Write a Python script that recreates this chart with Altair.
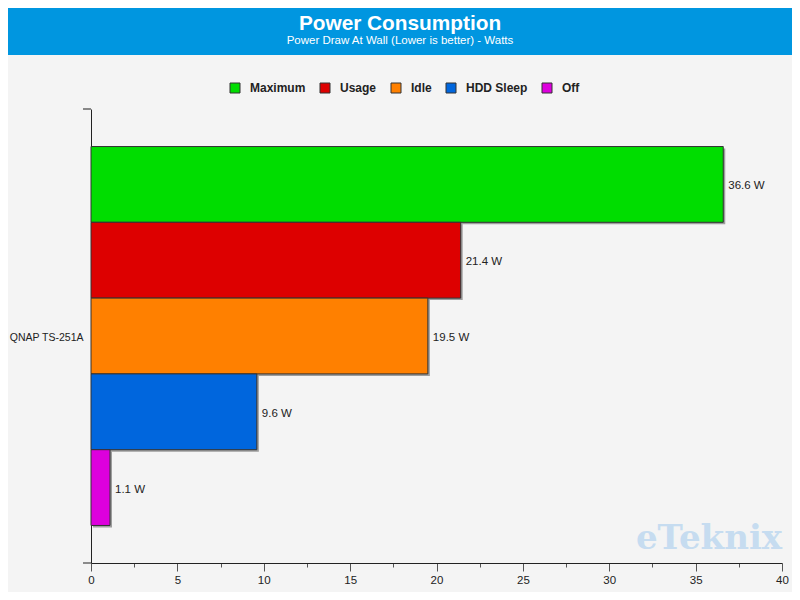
import altair as alt
import pandas as pd

device = "QNAP TS-251A"
series = ["Maximum", "Usage", "Idle", "HDD Sleep", "Off"]
values = [36.6, 21.4, 19.5, 9.6, 1.1]
colors = ["#00dd00", "#dd0000", "#ff8000", "#0066dd", "#dd00dd"]
x_ticks = [0, 2.5, 5, 7.5, 10, 12.5, 15, 17.5, 20, 22.5, 25, 27.5, 30, 32.5, 35, 37.5, 40]

title = "Power Consumption"
subtitle = "Power Draw At Wall (Lower is better) - Watts"
watermark = "eTeknix"

df = pd.DataFrame({"device": device, "series": series, "value": values})
one = pd.DataFrame({"a": [0]})

W, H = 691, 454
FONT = "Liberation Sans"

yscale = alt.Scale(domain=series, paddingInner=0, paddingOuter=0.495)
xscale = alt.Scale(domain=[0, 40], nice=False)

base = alt.Chart(df)

shadow = base.mark_bar(
    color="#555555", opacity=0.55, xOffset=2, x2Offset=2, yOffset=2, y2Offset=2
).encode(
    x=alt.X("value:Q", scale=xscale),
    y=alt.Y("series:N", scale=yscale),
)

bars = base.mark_bar(stroke="#333333", strokeWidth=1).encode(
    x=alt.X(
        "value:Q",
        scale=xscale,
        title=None,
        axis=alt.Axis(
            values=x_ticks,
            labelExpr="datum.value % 5 === 0 ? datum.label : ''",
            grid=False,
            domainColor="#222222",
            tickColor="#555555",
            tickSize={"condition": {"test": "datum.value % 5 === 0", "value": 8}, "value": 4},
            labelFont=FONT,
            labelFontSize=11.5,
            labelColor="#222222",
            labelPadding=3,
            labelFlush=False,
        ),
    ),
    y=alt.Y(
        "series:N",
        scale=yscale,
        sort=series,
        title=None,
        axis=alt.Axis(
            labelExpr=f"datum.value === 'Idle' ? '{device}' : ''",
            ticks=False,
            domainColor="#222222",
            labelFont=FONT,
            labelFontSize=10.5,
            labelColor="#222222",
            labelPadding=8,
            labelOffset=2,
        ),
    ),
    color=alt.Color(
        "series:N",
        scale=alt.Scale(domain=series, range=colors),
        legend=alt.Legend(
            title=None,
            orient="none",
            direction="horizontal",
            legendX=138,
            legendY=-27,
            symbolType="square",
            symbolSize=100,
            symbolStrokeColor="#333333",
            symbolStrokeWidth=1,
            symbolOpacity=1,
            labelFont=FONT,
            labelFontWeight="bold",
            labelFontSize=12,
            labelColor="#222222",
            labelOffset=9,
            columnPadding=12,
        ),
    ),
)

labels = base.transform_calculate(
    lab="format(datum.value, '.1f') + ' W'"
).mark_text(align="left", baseline="middle", dx=5, dy=2, font=FONT, fontSize=11.5, color="#222222").encode(
    x=alt.X("value:Q", scale=xscale),
    y=alt.Y("series:N", scale=yscale),
    text="lab:N",
)

header = alt.Chart(one).mark_rect(color="#0096e0").encode(
    x=alt.value(-91), x2=alt.value(709), y=alt.value(-115), y2=alt.value(-54)
)
t1 = alt.Chart(one).mark_text(
    text=title, font=FONT, fontSize=20.8, fontWeight="bold", color="white", align="center", baseline="middle"
).encode(x=alt.value(309), y=alt.value(-85))
t2 = alt.Chart(one).mark_text(
    text=subtitle, font=FONT, fontSize=11.5, color="white", align="center", baseline="middle"
).encode(x=alt.value(309), y=alt.value(-68))

wm = alt.Chart(one).mark_text(
    text=watermark, font="DejaVu Serif", fontSize=34, fontWeight="bold", color="#c6dcf0",
    align="center", baseline="middle",
).encode(x=alt.value(618), y=alt.value(430))

tick_top = alt.Chart(one).mark_rule(color="#888888", strokeWidth=2).encode(
    x=alt.value(-8), x2=alt.value(0), y=alt.value(0)
)
tick_bot = alt.Chart(one).mark_rule(color="#222222", strokeWidth=1).encode(
    x=alt.value(-8), x2=alt.value(0), y=alt.value(H)
)

chart = alt.layer(header, t1, t2, wm, shadow, bars, labels, tick_top, tick_bot).properties(
    width=W,
    height=H,
    autosize=alt.AutoSizeParams(type="none"),
    padding={"left": 83, "top": 101, "right": 10, "bottom": 29},
    background="#f4f4f4",
).configure_view(stroke=None)

chart.save("out.html", embed_options={"renderer": "svg", "actions": False})
